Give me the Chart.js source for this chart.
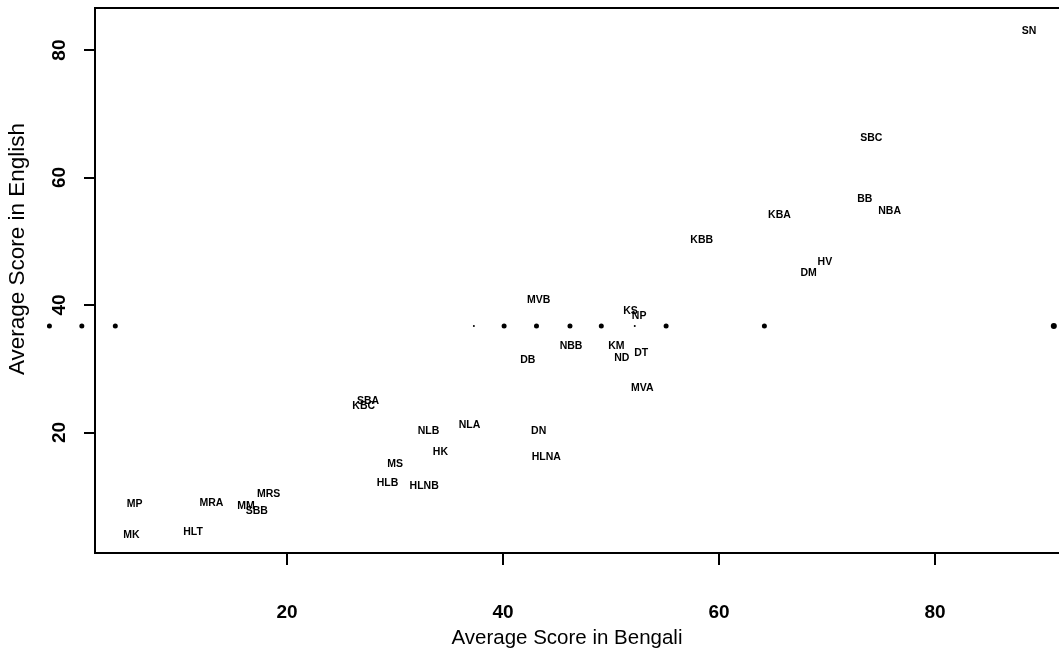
<!DOCTYPE html>
<html>
<head>
<meta charset="utf-8">
<script src="https://cdn.jsdelivr.net/npm/chart.js@4.4.1/dist/chart.umd.min.js"></script>
<style>
  html, body { margin: 0; padding: 0; background: #fff; }
  #wrap { width: 1059px; height: 657px; }
</style>
</head>
<body>
<div id="wrap"><canvas id="chart" width="1059" height="657"></canvas></div>
<script>
// school codes with their average scores
const schools = [
  "SN", "SBC", "BB", "NBA", "KBA", "KBB", "HV", "DM", "MVB", "KS", "NP",
  "KM", "ND", "DT", "NBB", "DB", "MVA", "SBA", "KBC", "NLB", "NLA", "DN",
  "HK", "HLNA", "MS", "HLB", "HLNB", "MRS", "MRA", "MM", "SBB", "MP", "MK", "HLT",
];
const bengali = [
  88.7, 74.1, 73.5, 75.8, 65.6, 58.4, 69.8, 68.3, 43.3, 51.8, 52.6,
  50.5, 51.0, 52.8, 46.3, 42.3, 52.9, 27.5, 27.1, 33.1, 36.9, 43.3,
  34.2, 44.0, 30.0, 29.3, 32.7, 18.3, 13.0, 16.2, 17.2, 5.9, 5.6, 11.3,
];
const english = [
  83.0, 66.2, 56.6, 54.8, 54.1, 50.2, 46.8, 45.0, 40.7, 39.0, 38.2,
  33.6, 31.7, 32.4, 33.5, 31.3, 27.0, 25.0, 24.1, 20.3, 21.1, 20.2,
  16.9, 16.2, 15.0, 12.1, 11.6, 10.4, 9.0, 8.4, 7.6, 8.8, 3.9, 4.4,
];

// dotted reference line across the plot (runs out into the left margin)
const refLevel = 36.7;
const refDotsX = [-2.0, 1.0, 4.1, 37.3, 40.1, 43.1, 46.2, 49.1, 52.2, 55.1, 64.2, 91.0];
const refDotsSize = [2.5, 2.5, 2.5, 1, 2.5, 2.5, 2.5, 2.5, 1, 2.5, 2.5, 3];

const xTicks = [20, 40, 60, 80];
const yTicks = [20, 40, 60, 80];
const xTitle = "Average Score in Bengali";
const yTitle = "Average Score in English";

const FONT = "'Liberation Sans', Arial, Helvetica, sans-serif";

const pointLabels = {
  id: "pointLabels",
  afterDatasetsDraw(chart) {
    const { ctx, chartArea: a } = chart;
    ctx.save();
    ctx.fillStyle = "#000";
    ctx.font = `bold 10.5px ${FONT}`;
    ctx.textAlign = "center";
    ctx.textBaseline = "middle";
    chart.getDatasetMeta(0).data.forEach((el, i) => {
      ctx.fillText(schools[i], el.x, el.y);
    });
    // Chart.js skips points outside the chart area, so draw those dots here
    chart.getDatasetMeta(1).data.forEach((el, i) => {
      if (el.x >= a.left && el.x <= a.right) return;
      ctx.beginPath();
      ctx.arc(el.x, el.y, refDotsSize[i], 0, Math.PI * 2);
      ctx.fill();
    });
    ctx.restore();
  },
};

// open frame (the right side runs off the page), rotated y tick labels, axis titles
const frame = {
  id: "frame",
  afterDraw(chart) {
    const { ctx, chartArea: a, width } = chart;
    const y = chart.scales.y;
    ctx.save();
    ctx.strokeStyle = "#000";
    ctx.lineWidth = 2;
    ctx.beginPath();
    ctx.moveTo(width, a.top);
    ctx.lineTo(a.left, a.top);
    ctx.lineTo(a.left, a.bottom);
    ctx.lineTo(width, a.bottom);
    ctx.stroke();

    ctx.fillStyle = "#000";
    ctx.textAlign = "center";
    ctx.textBaseline = "middle";
    ctx.font = `bold 19px ${FONT}`;
    yTicks.forEach((v) => {
      ctx.save();
      ctx.translate(60, y.getPixelForValue(v));
      ctx.rotate(-Math.PI / 2);
      ctx.fillText(String(v), 0, 0);
      ctx.restore();
    });

    ctx.font = `20.5px ${FONT}`;
    ctx.fillText(xTitle, 567, 638);

    ctx.save();
    ctx.translate(18, 249);
    ctx.rotate(-Math.PI / 2);
    ctx.font = `22.5px ${FONT}`;
    ctx.fillText(yTitle, 0, 0);
    ctx.restore();
    ctx.restore();
  },
};

new Chart(document.getElementById("chart"), {
  type: "scatter",
  data: {
    datasets: [
      {
        label: "Schools",
        data: bengali.map((b, i) => ({ x: b, y: english[i] })),
        pointRadius: 0,
        pointHoverRadius: 0,
      },
      {
        label: "Reference",
        data: refDotsX.map((x) => ({ x, y: refLevel })),
        pointRadius: refDotsSize,
        pointBackgroundColor: "#000",
        pointBorderWidth: 0,
        clip: false,
      },
    ],
  },
  options: {
    responsive: false,
    animation: false,
    layout: { padding: { top: 8, right: 0, left: 0, bottom: 0 } },
    plugins: {
      legend: { display: false },
      tooltip: { enabled: false },
    },
    scales: {
      x: {
        type: "linear",
        min: 2.22,
        max: 91.11,
        afterFit: (scale) => { scale.height = 104; },
        afterBuildTicks: (scale) => { scale.ticks = xTicks.map((v) => ({ value: v })); },
        border: { display: false },
        grid: { drawOnChartArea: false, drawTicks: true, tickLength: 12, color: "#000", lineWidth: 2 },
        ticks: {
          color: "#000",
          font: { family: FONT, size: 19, weight: "bold" },
          padding: 36,
          maxRotation: 0,
        },
      },
      y: {
        type: "linear",
        min: 1.1,
        max: 86.6,
        afterFit: (scale) => { scale.width = 95; },
        afterBuildTicks: (scale) => { scale.ticks = yTicks.map((v) => ({ value: v })); },
        border: { display: false },
        grid: { drawOnChartArea: false, drawTicks: true, tickLength: 11, color: "#000", lineWidth: 2 },
        ticks: { display: false },
      },
    },
  },
  plugins: [pointLabels, frame],
});
</script>
</body>
</html>
